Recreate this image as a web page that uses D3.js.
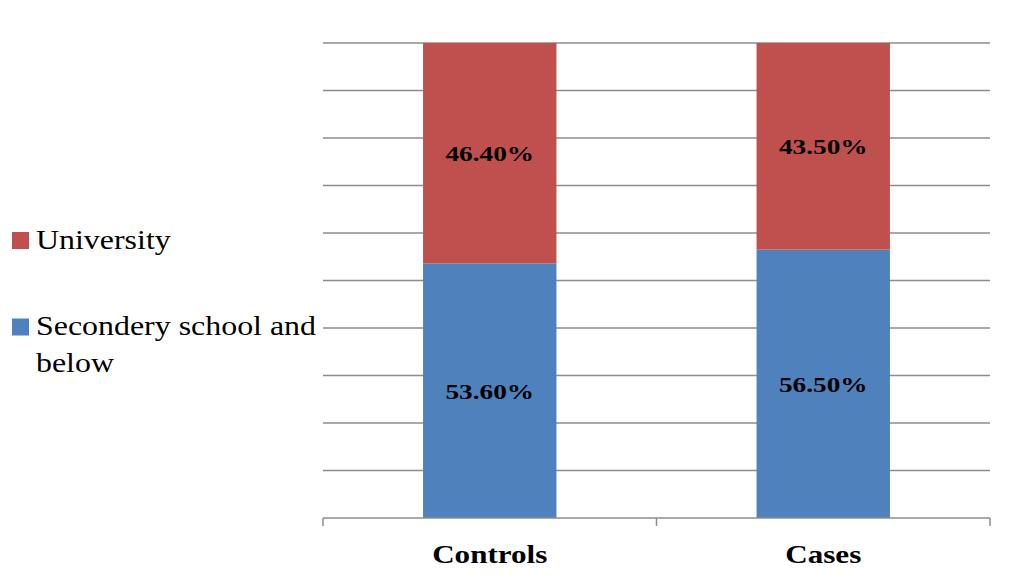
<!DOCTYPE html>
<html>
<head>
<meta charset="utf-8">
<script src="https://cdn.jsdelivr.net/npm/d3@7"></script>
<style>
  html, body { margin: 0; padding: 0; background: #fff; }
  svg { display: block; }
  text { font-family: "Liberation Serif", "Times New Roman", serif; }
</style>
</head>
<body>
<svg id="chart" width="1009" height="586"></svg>
<script>
// Education level by group (percent)
const categories = ["Controls", "Cases"];
const seriesNames = ["Secondery school and below", "University"];
const secondary = [53.6, 56.5];
const university = [46.4, 43.5];
const yTicks = [0, 10, 20, 30, 40, 50, 60, 70, 80, 90, 100];

const colors = { "Secondery school and below": "#4f81bd", "University": "#c0504d" };

const svg = d3.select("#chart");
const plot = { left: 323, right: 990, top: 43, bottom: 518 };

const x = d3.scaleBand().domain(categories).range([plot.left, plot.right]).paddingInner(0.6).paddingOuter(0.3);
const y = d3.scaleLinear().domain([0, 100]).range([plot.bottom, plot.top]);

// Text helper: glyphs are drawn slightly wide
function wideText(parent, tx, ty, sx, size, weight, anchor, str) {
  const g = parent.append("g").attr("transform", `translate(${tx},${ty}) scale(${sx},1)`);
  return g.append("text")
    .attr("x", 0).attr("y", 0)
    .attr("text-anchor", anchor)
    .attr("font-size", size)
    .attr("font-weight", weight)
    .attr("fill", "#000")
    .text(str);
}

// Horizontal gridlines
svg.append("g")
  .selectAll("line")
  .data(yTicks.filter(t => t > 0))
  .join("line")
  .attr("x1", plot.left).attr("x2", plot.right)
  .attr("y1", d => y(d)).attr("y2", d => y(d))
  .attr("stroke", "#8c8c8c").attr("stroke-width", 1.5);

// Stacked data
const rows = categories.map((c, i) => ({
  category: c,
  "Secondery school and below": secondary[i],
  "University": university[i]
}));
const stack = d3.stack().keys(seriesNames)(rows);

const layers = svg.append("g").selectAll("g")
  .data(stack)
  .join("g")
  .attr("fill", d => colors[d.key]);

layers.selectAll("rect")
  .data(d => d)
  .join("rect")
  .attr("x", d => x(d.data.category))
  .attr("width", x.bandwidth())
  .attr("y", d => y(d[1]))
  .attr("height", d => y(d[0]) - y(d[1]));

// Value labels
const labelLayer = svg.append("g");
stack.forEach(layer => {
  layer.forEach(v => {
    const cx = x(v.data.category) + x.bandwidth() / 2;
    const cy = (y(v[0]) + y(v[1])) / 2 + 8;
    wideText(labelLayer, cx, cy, 1.24, 22, "bold", "middle", v.data[layer.key].toFixed(2) + "%");
  });
});

// Category axis
const bounds = [plot.left];
categories.forEach((c, i) => {
  bounds.push(i === categories.length - 1 ? plot.right : (x(c) + x.bandwidth() + x(categories[i + 1])) / 2);
});
const axis = svg.append("g");
axis.append("line")
  .attr("x1", plot.left).attr("x2", plot.right)
  .attr("y1", plot.bottom).attr("y2", plot.bottom)
  .attr("stroke", "#8c8c8c").attr("stroke-width", 1.5);
axis.selectAll("line.tick")
  .data(bounds)
  .join("line")
  .attr("class", "tick")
  .attr("x1", d => d).attr("x2", d => d)
  .attr("y1", plot.bottom).attr("y2", plot.bottom + 8)
  .attr("stroke", "#8c8c8c").attr("stroke-width", 1.5);
categories.forEach(c => {
  wideText(axis, x(c) + x.bandwidth() / 2, 563, 1.22, 25.5, "bold", "middle", c);
});

// Legend
const legendItems = [
  { key: "University", lines: ["University"], y: 248.5 },
  { key: "Secondery school and below", lines: ["Secondery school and", "below"], y: 335 }
];
const legend = svg.append("g");
legendItems.forEach(item => {
  legend.append("rect")
    .attr("x", 12).attr("y", item.y - 16.5)
    .attr("width", 17).attr("height", 17)
    .attr("fill", colors[item.key]);
  item.lines.forEach((ln, i) => {
    wideText(legend, 36, item.y + i * 37, 1.14, 28, "normal", "start", ln);
  });
});
</script>
</body>
</html>
